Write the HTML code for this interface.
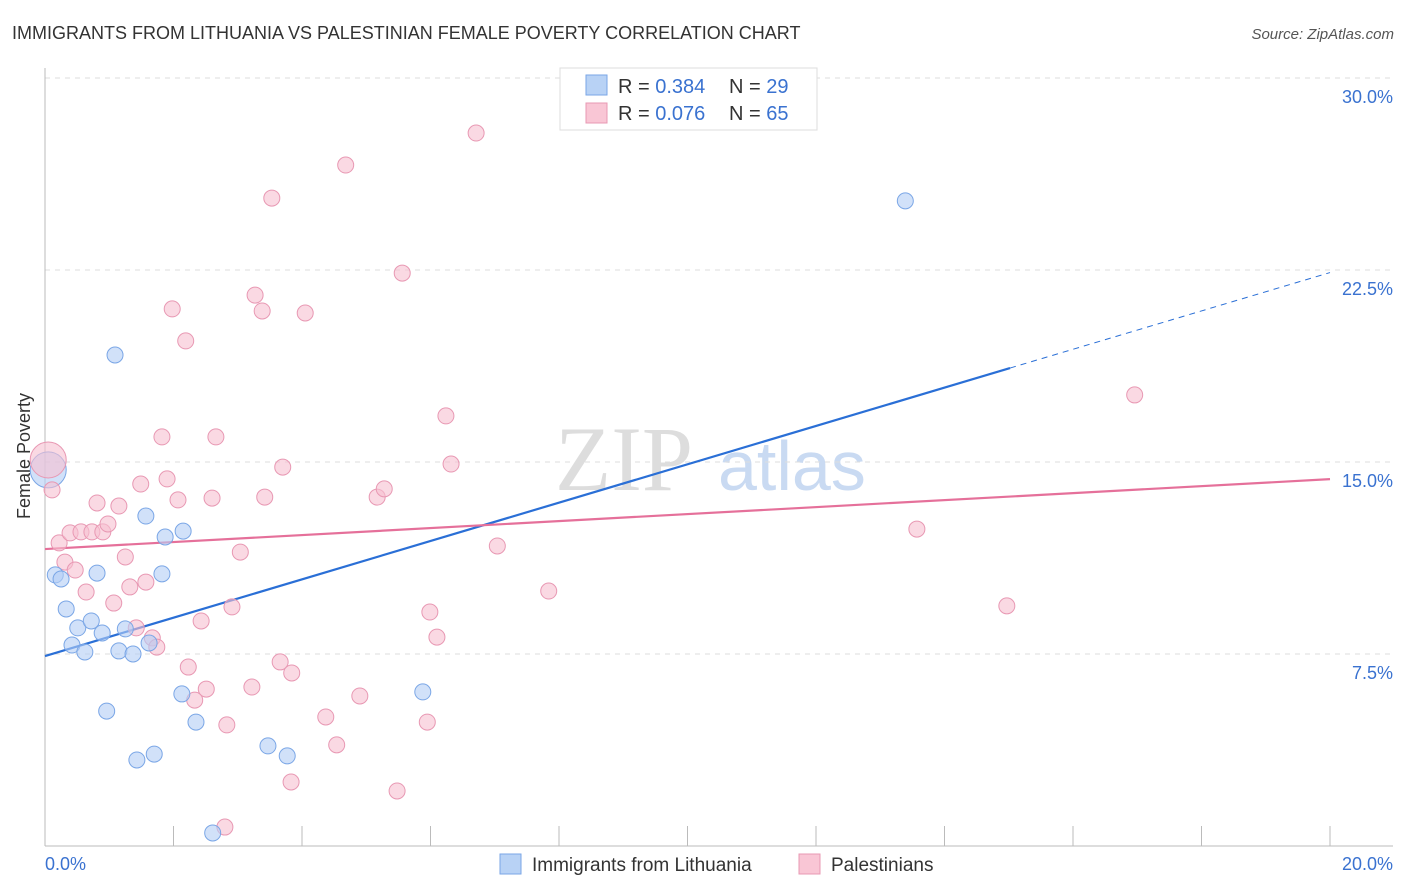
<!DOCTYPE html>
<html><head><meta charset="utf-8"><style>
body{margin:0;background:#fff;font-family:"Liberation Sans",sans-serif;}
svg{display:block}
</style></head><body>
<svg id="chart" width="1406" height="892" xmlns="http://www.w3.org/2000/svg">
<text x="12" y="39" font-size="18" fill="#333">IMMIGRANTS FROM LITHUANIA VS PALESTINIAN FEMALE POVERTY CORRELATION CHART</text>
<text x="1394" y="39" font-size="15" fill="#555" font-style="italic" text-anchor="end">Source: ZipAtlas.com</text>
<text x="30" y="456" font-size="18" fill="#333" text-anchor="middle" transform="rotate(-90 30 456)">Female Poverty</text>
<g><text x="555" y="490" font-size="92" fill="#ddd" font-family="Liberation Serif">ZIP</text><text x="718" y="490" font-size="70" fill="#c9daf2">atlas</text></g>
<g id="grid"></g>
<g id="axes"></g>
<g id="lines"></g>
<g id="pts"></g>
<g>
<rect x="560" y="68" width="257" height="62" fill="#fff" stroke="#ddd"/>
<rect x="586" y="75" width="21" height="20" fill="#b8d2f5" stroke="#7aa6e6"/>
<rect x="586" y="103" width="21" height="20" fill="#f9c6d5" stroke="#e898b3"/>
<text x="618" y="93" font-size="20" fill="#333">R = <tspan fill="#3a72d0">0.384</tspan></text>
<text x="729" y="93" font-size="20" fill="#333">N = <tspan fill="#3a72d0">29</tspan></text>
<text x="618" y="120" font-size="20" fill="#333">R = <tspan fill="#3a72d0">0.076</tspan></text>
<text x="729" y="120" font-size="20" fill="#333">N = <tspan fill="#3a72d0">65</tspan></text>
</g>
<g>
<rect x="500" y="854" width="21" height="20" fill="#b8d2f5" stroke="#7aa6e6"/>
<text x="532" y="871" font-size="19" fill="#333">Immigrants from Lithuania</text>
<rect x="799" y="854" width="21" height="20" fill="#f9c6d5" stroke="#e898b3"/>
<text x="831" y="871" font-size="19" fill="#333">Palestinians</text>
</g>
</svg>
<script>
const yTicks=[7.5,15,22.5,30];
const yTickLabels=["7.5%","15.0%","22.5%","30.0%"];
const xTickLabels=["0.0%","20.0%"];
const blueX=[0.16,0.25,0.33,0.42,0.51,0.62,0.72,0.81,0.89,0.96,1.09,1.15,1.25,1.37,1.43,1.57,1.62,1.70,1.82,1.87,2.13,2.15,2.35,2.61,3.47,3.77,5.88,13.39];
const blueY=[10.59,10.43,9.26,7.85,8.52,7.58,8.79,10.66,8.32,5.27,19.18,7.62,8.48,7.50,3.36,12.89,7.93,3.59,10.63,12.07,5.94,12.30,4.84,0.51,3.91,3.52,6.02,25.20];
const pinkX=[0.11,0.22,0.31,0.39,0.47,0.56,0.64,0.73,0.81,0.90,0.98,1.07,1.15,1.25,1.32,1.42,1.49,1.57,1.67,1.74,1.82,1.90,1.98,2.07,2.19,2.23,2.33,2.43,2.51,2.60,2.66,2.83,2.80,2.91,3.04,3.22,3.27,3.38,3.42,3.53,3.66,3.70,3.84,3.83,4.05,4.37,4.54,4.68,4.90,5.17,5.28,5.48,5.56,5.95,5.99,6.10,6.24,6.32,6.71,7.04,7.84,13.57,14.97,16.96];
const pinkY=[13.91,11.84,11.09,12.23,10.78,12.27,9.92,12.27,13.40,12.27,12.58,9.49,13.28,11.29,10.12,8.52,14.14,10.31,8.13,7.77,15.98,14.34,20.98,13.52,19.73,6.99,5.70,8.79,6.13,13.59,15.98,4.73,0.74,9.34,11.48,6.21,21.52,20.90,13.63,25.31,7.19,14.80,6.76,2.50,20.82,5.04,3.95,26.60,5.86,13.63,13.95,2.15,22.38,4.84,9.14,8.16,16.80,14.92,27.85,11.72,9.96,12.38,9.38,17.62];
const bigBlue=[0.05,14.69], bigPink=[0.05,15.08];
const blueTrend=[7.42,0.749], pinkTrend=[11.6,0.1365];
const X=v=>45+v*64.25, Y=v=>846-v*25.6;
const NS="http://www.w3.org/2000/svg";
function mk(p,t,a){const e=document.createElementNS(NS,t);for(const k in a)e.setAttribute(k,a[k]);document.getElementById(p).appendChild(e);return e;}
yTicks.forEach((t,i)=>{
 const g=mk('grid','line',{x1:45,x2:1393,y1:Y(t),y2:Y(t),stroke:'#ddd','stroke-dasharray':'5,5'});
 
 
 const l=mk('grid','text',{x:1393,y:Y(t)+25,'font-size':18,fill:'#3a72d0','text-anchor':'end'});
 l.textContent=yTickLabels[i];
 
 
});
const ax=mk('axes','line',{x1:45,x2:45,y1:68,y2:846,stroke:'#bbb'});


const bx=mk('axes','line',{x1:45,x2:1393,y1:846,y2:846,stroke:'#bbb'});


for(let i=0;i<=10;i++){const t=mk('axes','line',{x1:X(i*2),x2:X(i*2),y1:826,y2:846,stroke:'#bbb'});
 
 }
[[0,'start',45],[20,'end',1393]].forEach((d,i)=>{const t=mk('axes','text',{x:d[2],y:870,'font-size':18,fill:'#3a72d0','text-anchor':d[1]});t.textContent=xTickLabels[i];
 
 });
function dot(x,y,r,f,s,n){const c=mk('pts','circle',{cx:X(x),cy:Y(y),r:r,fill:f,stroke:s,'fill-opacity':0.6,'stroke-width':1});
 
 }
dot(bigBlue[0],bigBlue[1],18,'#b3cdf5','#7aa6e6','point-lithuania');
dot(bigPink[0],bigPink[1],18,'#f7bfd0','#e898b3','point-palestinian');
pinkX.forEach((x,i)=>dot(x,pinkY[i],8,'#f7bfd0','#e898b3','point-palestinian'));
blueX.forEach((x,i)=>dot(x,blueY[i],8,'#b3cdf5','#7aa6e6','point-lithuania'));
const b1=mk('lines','line',{x1:X(0),y1:Y(blueTrend[0]),x2:X(15.02),y2:Y(blueTrend[0]+blueTrend[1]*15.02),stroke:'#2a6fd6','stroke-width':2.2});


const b2=mk('lines','line',{x1:X(15.02),y1:Y(blueTrend[0]+blueTrend[1]*15.02),x2:X(20),y2:Y(blueTrend[0]+blueTrend[1]*20),stroke:'#2a6fd6','stroke-width':1,'stroke-dasharray':'6,5'});


const p1=mk('lines','line',{x1:X(0),y1:Y(pinkTrend[0]),x2:X(20),y2:Y(pinkTrend[0]+pinkTrend[1]*20),stroke:'#e5709a','stroke-width':2.2});


</script>
</body></html>
